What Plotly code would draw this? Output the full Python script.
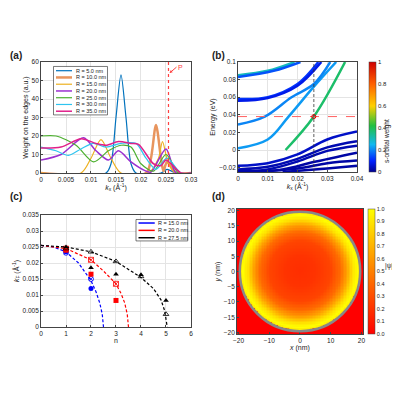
import numpy as np
import plotly.graph_objects as go
from plotly.colors import sample_colorscale

# ---- panel (a): weight on the edges ----
a_names = ['R = 5.0 nm', 'R = 10.0 nm', 'R = 15.0 nm', 'R = 20.0 nm', 'R = 25.0 nm', 'R = 30.0 nm', 'R = 35.0 nm']
a_colors = ['#0072BD', '#E8955E', '#EDB120', '#9B30D0', '#4DB030', '#2EC4F0', '#E0218A']
a_k = [
    [0, 0.013, 0.014, 0.015, 0.016, 0.017, 0.018, 0.019, 0.024, 0.0252, 0.027, 0.03],
    [0, 0.021, 0.022, 0.023, 0.024, 0.0245, 0.0252, 0.027, 0.03],
    [0, 0.008, 0.010, 0.012, 0.014, 0.016, 0.0215, 0.0235, 0.0243, 0.0255, 0.027, 0.03],
    [0, 0.004, 0.0085, 0.011, 0.0135, 0.0155, 0.018, 0.021, 0.022, 0.025, 0.027, 0.03],
    [0, 0.003, 0.007, 0.0105, 0.0135, 0.016, 0.018, 0.020, 0.0225, 0.025, 0.0275, 0.03],
    [0, 0.003, 0.0055, 0.008, 0.0105, 0.013, 0.016, 0.019, 0.021, 0.023, 0.0252, 0.028, 0.03],
    [0, 0.004, 0.008, 0.011, 0.013, 0.0155, 0.018, 0.0195, 0.0225, 0.024, 0.025, 0.028, 0.03],
]
a_w = [
    [0, 0, 5, 30, 53, 30, 5, 0, 0, 2, 0, 0],
    [0, 0, 8, 26, 8, 1, 6, 0, 0],
    [0, 0, 8, 18, 8, 0, 0, 8, 17, 5, 0, 0],
    [7, 10, 19, 12, 7, 12, 6, 1, 0.5, 13, 0, 0],
    [20, 20, 15, 6, 12, 15, 14, 5, 1, 10, 0, 0],
    [14, 12, 9.5, 13, 16, 14, 16, 16, 8, 2, 8, 0, 0],
    [13.5, 14, 18.5, 16, 15, 17, 16, 15.5, 5, 4, 7, 0, 0],
]
a_width = [1.2, 2.5, 1.2, 1.5, 1.2, 1.2, 1.5]
k_P = 0.0255

# ---- panel (b): bands (k, E, s-orbital weight) ----
b_bands = [
    ([0, 0.01, 0.017, 0.0255, 0.033], [0.002, 0.012, 0.038, 0.072, 0.1], 0.22),
    ([0, 0.009, 0.018, 0.0255, 0.031], [0.029, 0.038, 0.06, 0.075, 0.1], 0.2),
    ([0, 0.01, 0.02, 0.027], [0.058, 0.06, 0.075, 0.1], 0.12),
    ([0, 0.01, 0.02, 0.028], [0.056, 0.059, 0.073, 0.1], 0.08),
    ([0, 0.01, 0.019], [0.085, 0.09, 0.1], 0.3),
    ([0, 0.012, 0.021], [0.083, 0.09, 0.1], 0.15),
    ([0.016, 0.0255, 0.036], [0.0, 0.038, 0.1], 0.38),
    ([0, 0.01, 0.02, 0.03, 0.04], [-0.018, -0.015, -0.005, 0.012, 0.021], 0.05),
    ([0, 0.01, 0.02, 0.03, 0.04], [-0.022, -0.019, -0.01, 0.003, 0.01], 0.03),
    ([0, 0.01, 0.02, 0.03, 0.04], [-0.024, -0.022, -0.013, -0.001, 0.005], 0.03),
    ([0, 0.015, 0.025, 0.04], [-0.025, -0.022, -0.014, -0.003], 0.02),
    ([0.005, 0.02, 0.03, 0.04], [-0.025, -0.021, -0.015, -0.012], 0.02),
    ([0.015, 0.03, 0.04], [-0.025, -0.021, -0.018], 0.02),
]
E_P = 0.038

# ---- panel (c): kF vs n ----
c_names = ['R = 15.0 nm', 'R = 20.0 nm', 'R = 27.5 nm']
c_colors = ['#0000FF', '#FF0000', '#000000']
c_fit_n = [[0, 0.5, 1, 1.5, 2, 2.2, 2.35, 2.45, 2.5],
           [0, 1, 2, 2.5, 3, 3.2, 3.35, 3.45, 3.5],
           [0, 1, 2, 3, 4, 4.5, 4.8, 4.95, 5.05]]
c_fit_k = [[0.0255, 0.025, 0.0235, 0.02, 0.0145, 0.011, 0.0075, 0.004, 0],
           [0.0255, 0.0245, 0.021, 0.0175, 0.0135, 0.0105, 0.0075, 0.004, 0],
           [0.0255, 0.025, 0.0235, 0.0205, 0.0155, 0.012, 0.0085, 0.005, 0]]
c_full_n = [[1, 2], [1, 2, 3], [1, 2, 3, 4, 5]]
c_full_k = [[0.0235, 0.012], [0.024, 0.0165, 0.0083], [0.025, 0.0185, 0.0165, 0.0163, 0.0083]]
c_open_k = [[0.0232, 0.015], [0.0245, 0.021, 0.0135], [0.0245, 0.0235, 0.0205, 0.0158, 0.004]]
c_sym_full = ['circle', 'square', 'triangle-up']
c_sym_open = ['circle-x-open', 'square-x-open', 'triangle-up-open']

# ---- panel (d): radial profile of |psi|^2 ----
d_r = [0, 5, 10, 13, 15, 17, 18.5, 19.3, 19.6, 30]
d_v = [0.18, 0.2, 0.27, 0.42, 0.62, 0.88, 1.0, 0.9, 0, 0]

FONT = 'Liberation Sans, Arial, sans-serif'
JET = [[0, '#00008F'], [0.1, '#0020FF'], [0.25, '#10B8F0'], [0.42, '#20C040'],
       [0.6, '#FFD000'], [0.8, '#FF6000'], [1, '#D00000']]
fig = go.Figure()

for k, w, c, lw in zip(a_k, a_w, a_colors, a_width):
    fig.add_trace(go.Scatter(x=k, y=w, mode='lines', line=dict(color=c, width=lw, shape='spline', smoothing=0.8),
                             showlegend=False, xaxis='x', yaxis='y'))
fig.add_trace(go.Scatter(x=[k_P, k_P], y=[0, 60], mode='lines', line=dict(color='#FF4040', dash='dot', width=1.2),
                         showlegend=False, xaxis='x', yaxis='y'))

for k, e, w in b_bands:
    col = sample_colorscale(JET, [w])[0]
    fig.add_trace(go.Scatter(x=k, y=e, mode='lines', line=dict(color=col, width=2.5, shape='spline'),
                             showlegend=False, xaxis='x2', yaxis='y2'))
fig.add_trace(go.Scatter(x=[0, 0.04], y=[E_P, E_P], mode='lines', line=dict(color='#FF6060', dash='dash', width=1),
                         showlegend=False, xaxis='x2', yaxis='y2'))
fig.add_trace(go.Scatter(x=[k_P, k_P], y=[-0.025, 0.1], mode='lines', line=dict(color='#333', dash='3px,2px', width=0.8),
                         showlegend=False, xaxis='x2', yaxis='y2'))
fig.add_trace(go.Scatter(x=[k_P], y=[E_P], mode='markers',
                         marker=dict(symbol='circle-open', color='#E00000', size=4, line=dict(width=1)),
                         showlegend=False, xaxis='x2', yaxis='y2'))
fig.add_trace(go.Scatter(x=[None], y=[None], mode='markers', showlegend=False, xaxis='x2', yaxis='y2',
                         marker=dict(color=[0], colorscale=JET, cmin=0, cmax=1, showscale=True,
                                     colorbar=dict(x=0.9209, xanchor='left', xpad=0, ypad=0, y=0.5816,
                                                   yanchor='bottom', len=0.2806, thickness=7, outlinewidth=0.5,
                                                   tickfont=dict(size=6),
                                                   tickvals=[0, 0.2, 0.4, 0.6, 0.8, 1], ticks=''))))

for i in range(3):
    fig.add_trace(go.Scatter(x=c_fit_n[i], y=c_fit_k[i], mode='lines',
                             line=dict(color=c_colors[i], dash='3px,2px', width=1.2),
                             showlegend=False, xaxis='x3', yaxis='y3'))
    fig.add_trace(go.Scatter(x=c_full_n[i], y=c_full_k[i], mode='markers', showlegend=False,
                             marker=dict(symbol=c_sym_full[i], color=c_colors[i], size=5),
                             xaxis='x3', yaxis='y3'))
    fig.add_trace(go.Scatter(x=c_full_n[i], y=c_open_k[i], mode='markers', showlegend=False,
                             marker=dict(symbol=c_sym_open[i], color=c_colors[i], size=5, line=dict(width=0.8)),
                             xaxis='x3', yaxis='y3'))

gx = np.linspace(-20.5, 20.5, 83)
X, Y = np.meshgrid(gx, gx)
Z = np.interp(np.hypot(X, Y), d_r, d_v)
fig.add_trace(go.Heatmap(x=gx, y=gx, z=Z, xaxis='x4', yaxis='y4', zmin=0, zmax=1,
                         colorscale=[[0, '#FF0000'], [1, '#FFFF00']],
                         colorbar=dict(x=0.9184, xanchor='left', xpad=0, ypad=0, y=0.1684, yanchor='bottom',
                                       len=0.3189, thickness=7, outlinewidth=0.5, tickfont=dict(size=5.5),
                                       dtick=0.1, tickformat='.1f')))
fig.add_shape(type='circle', xref='x4', yref='y4', x0=-19.6, x1=19.6, y0=-19.6, y1=19.6,
              line=dict(color='#888', width=2.5))

# hand-drawn legends (plotly's own legend rows are too tall at this size)
fig.add_shape(type='rect', xref='x', yref='y', x0=0.0025, x1=0.0133, y0=31.4, y1=57.6,
              line=dict(color='#222', width=0.6), fillcolor='white', layer='above')
for j, (n, c, lw) in enumerate(zip(a_names, a_colors, a_width)):
    yy = 55.3 - j * 3.65
    fig.add_shape(type='line', xref='x', yref='y', x0=0.003, x1=0.0062, y0=yy, y1=yy,
                  line=dict(color=c, width=lw), layer='above')
    fig.add_annotation(text=n, xref='x', yref='y', x=0.0065, y=yy, xanchor='left', showarrow=False,
                       font=dict(size=5.5, color='#222'))
fig.add_shape(type='rect', xref='x3', yref='y3', x0=3.8, x1=5.87, y0=0.0269, y1=0.0336,
              line=dict(color='#222', width=0.6), fillcolor='white', layer='above')
for j, (n, c) in enumerate(zip(c_names, c_colors)):
    yy = 0.0325 - j * 0.0023
    fig.add_shape(type='line', xref='x3', yref='y3', x0=3.9, x1=4.55, y0=yy, y1=yy,
                  line=dict(color=c, width=1.5), layer='above')
    fig.add_annotation(text=n, xref='x3', yref='y3', x=4.6, y=yy, xanchor='left', showarrow=False,
                       font=dict(size=5.5, color='#222'))

ax = dict(showline=True, linecolor='#444', linewidth=0.8, mirror=True, ticks='inside', ticklen=2,
          showgrid=True, gridcolor='#E4E4E4', zeroline=False, tickfont=dict(size=6.5))
tf = dict(size=7)
fig.update_layout(
    width=392, height=392, margin=dict(l=0, r=0, t=0, b=0, autoexpand=False),
    plot_bgcolor='white', paper_bgcolor='white',
    font=dict(family=FONT, color='#222'), showlegend=False,
    xaxis=dict(ax, domain=[0.0842, 0.4668], range=[0, 0.03], dtick=0.005, anchor='y',
               title=dict(text='<i>k</i><sub>x</sub> (Å<sup>-1</sup>)', font=tf, standoff=2)),
    yaxis=dict(ax, domain=[0.5791, 0.8622], range=[0, 60], dtick=10, anchor='x',
               title=dict(text='Weight on the edges (a.u.)', font=tf, standoff=2)),
    xaxis2=dict(ax, domain=[0.5867, 0.8903], range=[0, 0.04], dtick=0.01, anchor='y2',
                title=dict(text='<i>k</i><sub>x</sub> (Å<sup>-1</sup>)', font=tf, standoff=2)),
    yaxis2=dict(ax, domain=[0.5816, 0.8622], range=[-0.025, 0.1], tickvals=[-0.02, 0, 0.02, 0.04, 0.06, 0.08, 0.1],
                anchor='x2', title=dict(text='Energy (eV)', font=tf, standoff=2)),
    xaxis3=dict(ax, domain=[0.0842, 0.4668], range=[0, 6], dtick=1, anchor='y3',
                title=dict(text='n', font=tf, standoff=2)),
    yaxis3=dict(ax, domain=[0.1862, 0.4719], range=[0, 0.035], dtick=0.005, anchor='x3',
                title=dict(text='<i>k</i><sub>F</sub> (Å<sup>-1</sup>)', font=tf, standoff=2)),
    xaxis4=dict(ax, domain=[0.5842, 0.9056], range=[-20.5, 20.5], tickvals=[-20, -10, 0, 10, 20], showgrid=False,
                anchor='y4', title=dict(text='<i>x</i> (nm)', font=tf, standoff=2)),
    yaxis4=dict(ax, domain=[0.1684, 0.4872], range=[-20.5, 20.5], dtick=5, showgrid=False, anchor='x4',
                title=dict(text='<i>y</i> (nm)', font=tf, standoff=2)),
)
for txt, x, y in [('(a)', 0.0, 0.88), ('(b)', 0.515, 0.88), ('(c)', 0.0, 0.518), ('(d)', 0.515, 0.518)]:
    fig.add_annotation(text='<b>%s</b>' % txt, xref='paper', yref='paper', x=x, y=y, xanchor='left',
                       yanchor='middle', showarrow=False, font=dict(size=10, color='#222'))
fig.add_annotation(text='P', xref='x', yref='y', x=0.0257, y=54, ax=7, ay=-6, showarrow=True, arrowhead=2,
                   arrowsize=0.6, arrowwidth=1, arrowcolor='#FF4040', xanchor='left',
                   font=dict(size=7, color='#FF4040'))
# colorbar titles
fig.add_annotation(text='s-orbital weight', xref='paper', yref='paper', x=0.982, y=0.722, textangle=-90,
                   showarrow=False, font=dict(size=6.5, color='#222'))
fig.add_annotation(text='|ψ|<sup>2</sup>', xref='paper', yref='paper', x=0.975, y=0.3265,
                   xanchor='center', showarrow=False, font=dict(size=6.5, color='#222'))

fig.write_html('out.html')
